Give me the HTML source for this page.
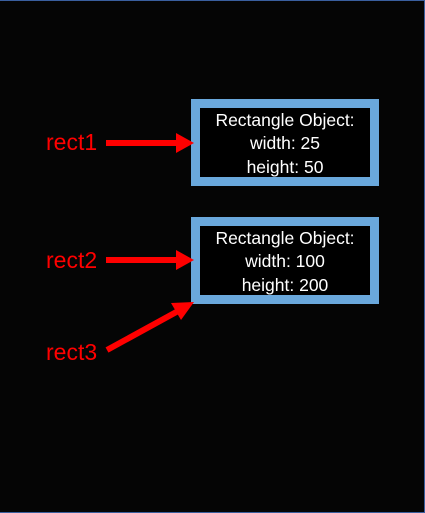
<!DOCTYPE html>
<html><head><meta charset="utf-8"><style>
html,body{margin:0;padding:0;background:#000;}
.wrap{position:relative;width:424px;height:511px;background:#050505;border-top:1px solid #3a5f9e;border-right:1px solid #3a5f9e;border-bottom:1px solid #3a5f9e;overflow:hidden;}
svg{position:absolute;left:0;top:-1px;}
</style></head><body><div class="wrap">
<svg width="425" height="513" viewBox="0 0 425 513">
<rect x="195.5" y="103.5" width="179" height="78" fill="#000" stroke="#6aa8dc" stroke-width="9"/>
<rect x="195.5" y="221.5" width="179" height="78" fill="#000" stroke="#6aa8dc" stroke-width="9"/>
<g font-family="Liberation Sans, sans-serif" font-size="17.5" fill="#fff" text-anchor="middle">
<text x="285" y="126">Rectangle Object:</text>
<text x="285" y="149">width: 25</text>
<text x="285" y="173">height: 50</text>
<text x="285" y="244">Rectangle Object:</text>
<text x="285" y="267">width: 100</text>
<text x="285" y="291">height: 200</text>
</g>
<g font-family="Liberation Sans, sans-serif" font-size="23" fill="#ff0000">
<text x="46" y="150">rect1</text>
<text x="46" y="268">rect2</text>
<text x="46" y="360">rect3</text>
</g>
<g fill="#ff0000">
<rect x="106" y="140" width="72" height="6"/>
<polygon points="176,133 194,143 176,153"/>
<rect x="106" y="257" width="72" height="6"/>
<polygon points="176,250 194,260 176,270"/>
</g>
<line x1="107" y1="350" x2="180" y2="310" stroke="#ff0000" stroke-width="6"/>
<polygon points="194,302 171,303 181,320" fill="#ff0000"/>
</svg>
</div></body></html>
